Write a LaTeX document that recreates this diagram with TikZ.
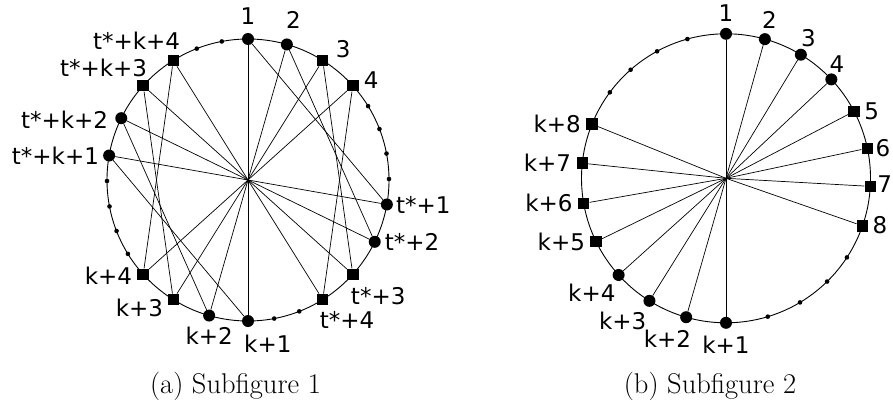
\documentclass[tikz,border=0pt]{standalone}
\usepackage{fontspec}
\newfontfamily\labfont{DejaVu Sans}
\usetikzlibrary{calc,backgrounds}
\begin{document}
\begin{tikzpicture}[x=1pt,y=1pt,
  ring/.style={line width=0.9pt},
  edge/.style={line width=0.7pt},
  bignode/.style={circle, fill=black, inner sep=0pt, minimum size=12pt},
  sqnode/.style={rectangle, fill=black, inner sep=0pt, minimum size=11.5pt},
  smalldot/.style={circle, fill=black, inner sep=0pt, minimum size=4.6pt},
  lab/.style={inner sep=0pt, font=\labfont\fontsize{23}{27}\selectfont},
  captext/.style={inner sep=0pt, font=\fontsize{28.5}{34}\selectfont}]
\useasboundingbox (0,0) rectangle (893,408);
% ---------- left circle ----------
\coordinate (O1) at (248,228);
\draw[ring] (O1) circle (141);
\begin{scope}[shift={(248,228)}]
  \node[bignode] (A1) at (90:141) {};
  \node[bignode] (A2) at (74:141) {};
  \node[sqnode]  (A3) at (58:141) {};
  \node[sqnode]  (A4) at (42:141) {};
  \node[bignode] (B1) at (-10:141) {};
  \node[bignode] (B2) at (-26:141) {};
  \node[sqnode]  (B3) at (-42:141) {};
  \node[sqnode]  (B4) at (-58:141) {};
  \node[bignode] (C1) at (270:141) {};
  \node[bignode] (C2) at (254:141) {};
  \node[sqnode]  (C3) at (238:141) {};
  \node[sqnode]  (C4) at (222:141) {};
  \node[bignode] (D1) at (170:141) {};
  \node[bignode] (D2) at (154:141) {};
  \node[sqnode]  (D3) at (138:141) {};
  \node[sqnode]  (D4) at (122:141) {};
  \foreach \a [count=\i] in {31.6,21.2,10.8,0.4,291.3,280.7,211.6,201.2,190.8,180.4,111.3,100.7}
    \node[smalldot] (ld\i) at (\a:141) {};
\end{scope}
\begin{scope}[on background layer]
  \foreach \i in {1,2,3,4}{
    \draw[edge] (A\i) -- (C\i);
    \draw[edge] (B\i) -- (D\i);
    \draw[edge] (A\i) -- (B\i);
    \draw[edge] (D\i) -- (C\i);
  }
\end{scope}
% labels left
\node[lab, anchor=south]      (lA1) at ($(A1)+(0,14)$) {1};
\node[lab, anchor=south west] (lA2) at ($(A2)+(-1,16)$) {2};
\node[lab, anchor=south west] (lA3) at ($(A3)+(13,2)$) {3};
\node[lab, anchor=south west] (lA4) at ($(A4)+(11,-3)$) {4};
\node[lab, anchor=west]       (lB1) at ($(B1)+(9,0)$) {t*+1};
\node[lab, anchor=west]       (lB2) at ($(B2)+(10,0)$) {t*+2};
\node[lab, anchor=north west] (lB3) at ($(B3)+(-2,-13)$) {t*+3};
\node[lab, anchor=north west] (lB4) at ($(B4)+(-3,-12)$) {t*+4};
\node[lab, anchor=north west] (lC1) at ($(C1)+(-4,-14)$) {k+1};
\node[lab, anchor=north]      (lC2) at ($(C2)+(0,-11)$) {k+2};
\node[lab, anchor=north east] (lC3) at ($(C3)+(-10,1)$) {k+3};
\node[lab, anchor=east]       (lC4) at ($(C4)+(-11,-1)$) {k+4};
\node[lab, anchor=east]       (lD1) at ($(D1)+(-10,0)$) {t*+k+1};
\node[lab, anchor=east]       (lD2) at ($(D2)+(-13,-2)$) {t*+k+2};
\node[lab, anchor=south east] (lD3) at ($(D3)+(4,9)$) {t*+k+3};
\node[lab, anchor=south east] (lD4) at ($(D4)+(7,11)$) {t*+k+4};
% ---------- right circle ----------
\coordinate (O2) at (726,229.7);
\draw[ring] (O2) circle (144.5);
\begin{scope}[shift={(726,229.7)}]
  \foreach \a [count=\i] in {90,74.4,58.8,43.2}
    \node[bignode] (P\i) at (\a:144.5) {};
  \foreach \a [count=\i from 5] in {27.6,12,-3.2,-19.2}
    \node[sqnode] (P\i) at (\a:144.5) {};
  \foreach \a [count=\i] in {270,254,238,222}
    \node[bignode] (Q\i) at (\a:144.5) {};
  \foreach \a [count=\i from 5] in {206,190,174,158}
    \node[sqnode] (Q\i) at (\a:144.5) {};
  \foreach \a [count=\i] in {105.5,118.5,131.3,143.5,286.8,300.8,314.4,326.8}
    \node[smalldot] (rd\i) at (\a:144.5) {};
\end{scope}
\begin{scope}[on background layer]
  \foreach \i in {1,...,8}{
    \draw[edge] (P\i) -- (O2);
    \draw[edge] (Q\i) -- (O2);
  }
\end{scope}
% labels right
\node[lab, anchor=south]      (lP1) at ($(P1)+(0,12)$) {1};
\node[lab, anchor=south west] (lP2) at ($(P2)+(-3,10)$) {2};
\node[lab, anchor=south west] (lP3) at ($(P3)+(0,8)$) {3};
\node[lab, anchor=south west] (lP4) at ($(P4)+(-2,7)$) {4};
\node[lab, anchor=west]       (lP5) at ($(P5)+(10,0)$) {5};
\node[lab, anchor=west]       (lP6) at ($(P6)+(8,0)$) {6};
\node[lab, anchor=west]       (lP7) at ($(P7)+(7,2)$) {7};
\node[lab, anchor=west]       (lP8) at ($(P8)+(10,1)$) {8};
\node[lab, anchor=north]      (lQ1) at ($(Q1)+(0,-13)$) {k+1};
\node[lab, anchor=north east] (lQ2) at ($(Q2)+(5,-13)$) {k+2};
\node[lab, anchor=north east] (lQ3) at ($(Q3)+(-3,-11)$) {k+3};
\node[lab, anchor=north east] (lQ4) at ($(Q4)+(-3,-9)$) {k+4};
\node[lab, anchor=east]       (lQ5) at ($(Q5)+(-11,0)$) {k+5};
\node[lab, anchor=east]       (lQ6) at ($(Q6)+(-11,0)$) {k+6};
\node[lab, anchor=east]       (lQ7) at ($(Q7)+(-11,0)$) {k+7};
\node[lab, anchor=east]       (lQ8) at ($(Q8)+(-11,0)$) {k+8};
% captions
\node[captext, anchor=base] (capa) at (235.5,15) {(a) Subfigure 1};
\node[captext, anchor=base] (capb) at (710,15) {(b) Subfigure 2};
\end{tikzpicture}
\end{document}
